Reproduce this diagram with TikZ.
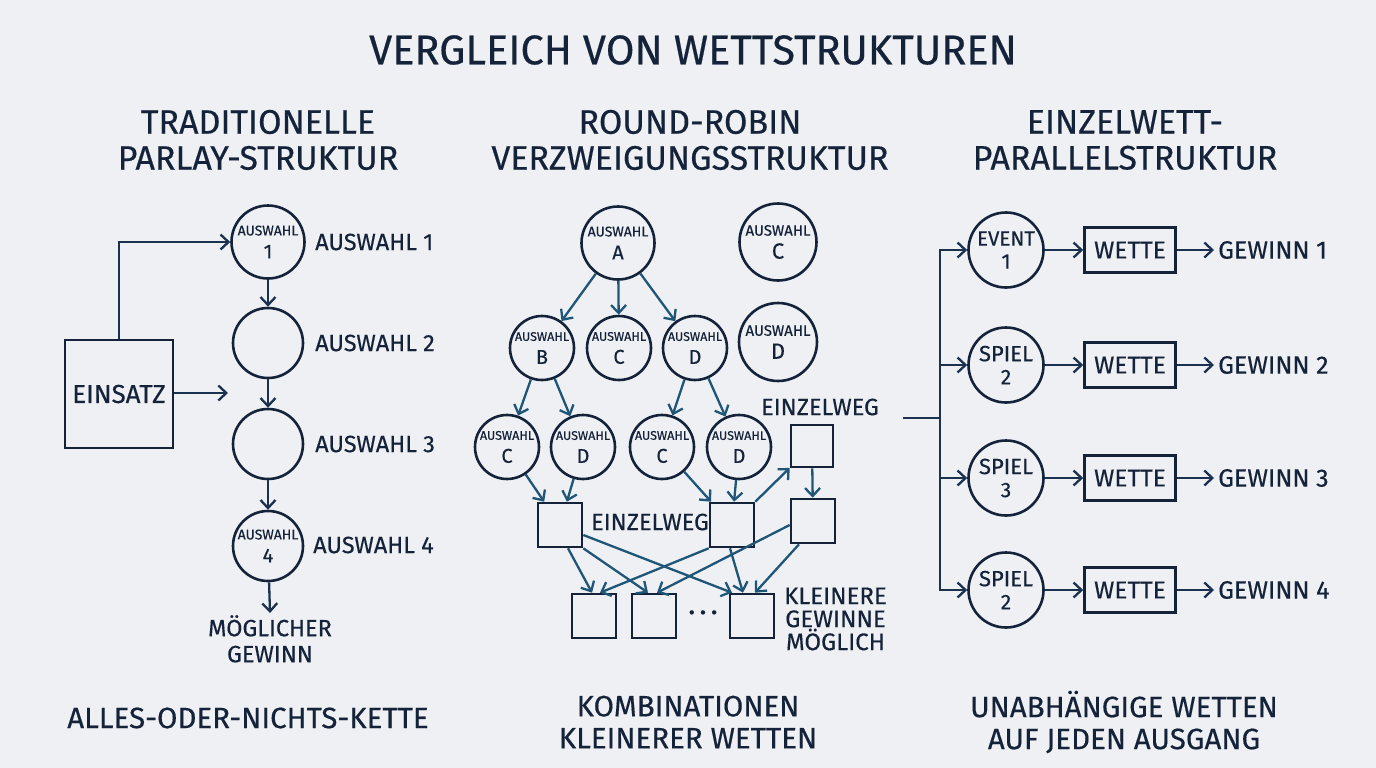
\documentclass[tikz,border=0pt]{standalone}
\usepackage{fontspec}
\setmainfont{Fira Sans}[FakeBold=0.4]
\usetikzlibrary{arrows.meta,calc}

\definecolor{paper}{HTML}{EEF0F3}
\definecolor{ink}{HTML}{15233A}
\definecolor{navyflow}{HTML}{1B3150}
\definecolor{tealflow}{HTML}{1F5678}

% two-line circle captions: small tag word above a larger key
\newcommand\seltag[2]{{\fontsize{#1}{23}\selectfont #2}}
\newcommand\selkey[2]{{\fontsize{#1}{23}\selectfont #2}}

\tikzset{
  sel/.style={circle,draw=ink,line width=2.6pt,minimum size=#1,inner sep=0pt,
    align=center,text=ink,font=\fontsize{12}{23}\selectfont},
  sel/.default=72pt,
  slot/.style={rectangle,draw=ink,line width=2.6pt,minimum width=#1,
    minimum height=#1,inner sep=0pt},
  slot/.default=44pt,
  lbl/.style={text=ink,font=\fontsize{23.5}{27}\selectfont,inner sep=0pt},
  midlbl/.style={text=ink,font=\fontsize{23.5}{24}\selectfont,inner sep=0pt,align=center},
  head/.style={text=ink,font=\fontsize{34}{36}\selectfont,align=center,inner sep=0pt},
  foot/.style={text=ink,font=\fontsize{29.5}{32}\selectfont,align=center,inner sep=0pt},
  tip/.style={-{Straight Barb[length=8pt,width=15pt,line width=2.3pt]}},
  navyarrow/.style={draw=navyflow,line width=2.3pt,tip},
  tealarrow/.style={draw=tealflow,line width=2.3pt,tip},
  navyline/.style={draw=navyflow,line width=2.3pt},
}

\begin{document}
\begin{tikzpicture}[x=1pt,y=-1pt]
  \fill[paper] (0,0) rectangle (1376,768);
  \useasboundingbox (0,0) rectangle (1376,768);

  % title
  \node[text=ink,font=\fontsize{41.5}{44}\selectfont,inner sep=0pt] (title) at (693,50)
    {VERGLEICH VON WETTSTRUKTUREN};

  % column headings
  \node[head] (hl) at (258,140) {TRADITIONELLE\\PARLAY-STRUKTUR};
  \node[head] (hm) at (690,140) {ROUND-ROBIN\\VERZWEIGUNGSSTRUKTUR};
  \node[head] (hr) at (1125,140) {EINZELWETT-\\PARALLELSTRUKTUR};

  % ---------- parlay chain ----------
  \node[sel=73pt] (p1) at (268,242) {\seltag{14}{AUSWAHL}\\\selkey{20}{1}};
  \node[sel=70pt] (p2) at (268,343) {};
  \node[sel=70pt] (p3) at (268,444) {};
  \node[sel=70pt] (p4) at (268,546) {\seltag{14}{AUSWAHL}\\\selkey{20}{4}};

  \node[lbl,anchor=west] (l1) at (315,242) {AUSWAHL 1};
  \node[lbl,anchor=west] (l2) at (315,343) {AUSWAHL 2};
  \node[lbl,anchor=west] (l3) at (315,444) {AUSWAHL 3};
  \node[lbl,anchor=west] (l4) at (313,545) {AUSWAHL 4};

  \node[text=ink,font=\fontsize{23.5}{26}\selectfont,align=center,inner sep=2pt,anchor=north]
    (gain) at (270,613) {MÖGLICHER\\GEWINN};

  \node[slot=108pt,text=ink,font=\fontsize{26}{28}\selectfont] (stake) at (119,394) {EINSATZ};
  \coordinate (stakeend) at (228,393);

  \draw[navyarrow] (stake.north) |- (p1.west);
  \draw[navyarrow] (stake.east |- stakeend) -- (stakeend);
  \draw[navyarrow] (p1) -- (p2);
  \draw[navyarrow] (p2) -- (p3);
  \draw[navyarrow] (p3) -- (p4);
  \draw[navyarrow] (p4) -- (gain.north);

  \node[foot] (fl) at (248,718) {ALLES-ODER-NICHTS-KETTE};

  % ---------- round-robin tree ----------
  \node[sel=73pt] (rA) at (618,243) {\seltag{14}{AUSWAHL}\\\selkey{20}{A}};
  \node[sel=77pt] (rCi) at (778,242) {\seltag{15}{AUSWAHL}\\\selkey{22}{C}};
  \node[sel=64pt] (rB) at (542,348) {\seltag{12.5}{AUSWAHL}\\\selkey{20}{B}};
  \node[sel=64pt] (rC) at (619,348) {\seltag{12.5}{AUSWAHL}\\\selkey{20}{C}};
  \node[sel=64pt] (rD) at (695,348) {\seltag{12.5}{AUSWAHL}\\\selkey{20}{D}};
  \node[sel=78pt] (rDi) at (778,342) {\seltag{15}{AUSWAHL}\\\selkey{22}{D}};

  \node[sel=64pt] (rC1) at (507,447) {\seltag{12.5}{AUSWAHL}\\\selkey{20}{C}};
  \node[sel=64pt] (rD1) at (583,447) {\seltag{12.5}{AUSWAHL}\\\selkey{20}{D}};
  \node[sel=64pt] (rC2) at (662,447) {\seltag{12.5}{AUSWAHL}\\\selkey{20}{C}};
  \node[sel=64pt] (rD2) at (739,447) {\seltag{12.5}{AUSWAHL}\\\selkey{20}{D}};

  \node[slot] (k1) at (560,525) {};
  \node[slot] (k2) at (732,525) {};
  \node[slot=42pt] (kt) at (812,446) {};
  \node[slot] (k3) at (813,521) {};

  \node[slot] (b1) at (594,616) {};
  \node[slot] (b2) at (654,616) {};
  \node[slot] (b3) at (752,616) {};
  \node[text=ink,font=\fontsize{30}{30}\selectfont,inner sep=0pt] (dots) at (703,616)
    {·\hspace{4pt}·\hspace{4pt}·};

  \node[midlbl] (ew1) at (650,522) {EINZELWEG};
  \node[midlbl] (ew2) at (820,407) {EINZELWEG};
  \node[midlbl,font=\fontsize{24}{23}\selectfont,anchor=west] (small) at (784,619)
    {KLEINERE\\GEWINNE\\MÖGLICH};

  \draw[tealarrow] (rA) -- (rB);
  \draw[tealarrow] (rA) -- (rC);
  \draw[tealarrow] (rA) -- (rD);
  \draw[tealarrow] (rB) -- (rC1);
  \draw[tealarrow] (rB) -- (rD1);
  \draw[tealarrow] (rD) -- (rC2);
  \draw[tealarrow] (rD) -- (rD2);

  \draw[tealarrow] (rC1) -- (k1);
  \draw[tealarrow] (rD1) -- (k1);
  \draw[tealarrow] (rC2) -- (k2);
  \draw[tealarrow] (rD2) -- (k2);
  \draw[tealarrow] (k2.north east) -- (kt);
  \draw[tealarrow] (kt) -- (k3);

  \draw[tealarrow] ([xshift=8pt]k1.south) -- ([xshift=-2pt]b1.north);
  \draw[tealarrow] (k1.south east) -- ([xshift=-6pt]b2.north);
  \draw[tealarrow] ([yshift=-10pt]k1.east) -- ([xshift=-20pt]b3.north);
  \draw[tealarrow] (k2.south west) -- ([xshift=6pt]b1.north);
  \draw[tealarrow] ([xshift=-2pt]k2.south) -- ([xshift=-9pt]b3.north);
  \draw[tealarrow] ([yshift=-4pt]k3.west) -- ([xshift=3pt]b2.north);
  \draw[tealarrow] ([xshift=-14pt]k3.south) -- ([xshift=3pt]b3.north);

  \node[foot] (fm) at (688,722) {KOMBINATIONEN\\KLEINERER WETTEN};

  % ---------- parallel single bets ----------
  \coordinate (feed) at (903,418);
  \coordinate (trunk) at (940,418);

  \node[sel=75pt] (e1) at (1006,250) {\seltag{20.5}{EVENT}\\\selkey{21}{1}};
  \node[sel=75pt] (e2) at (1006,365) {\seltag{22}{SPIEL}\\\selkey{21}{2}};
  \node[sel=75pt] (e3) at (1006,478) {\seltag{22}{SPIEL}\\\selkey{21}{3}};
  \node[sel=75pt] (e4) at (1006,590) {\seltag{22}{SPIEL}\\\selkey{21}{2}};

  \foreach \r/\y in {1/250,2/365,3/478,4/590}{
    \node[rectangle,draw=ink,line width=2.6pt,minimum width=91pt,minimum height=45pt,
      inner sep=0pt,text=ink,font=\fontsize{24.5}{26}\selectfont] (w\r) at (1130,\y) {WETTE};
    \node[lbl,font=\fontsize{25}{27}\selectfont,anchor=west] (g\r) at (1218,\y) {GEWINN \r};
    \draw[navyarrow] (e\r) -- (w\r);
    \draw[navyarrow,shorten >=4pt] (w\r) -- (g\r.west);
    \draw[navyarrow] (trunk) |- (e\r.west);
  }
  \draw[navyline] (feed) -- (trunk);

  \node[foot] (fr) at (1124,722) {UNABHÄNGIGE WETTEN\\AUF JEDEN AUSGANG};
\end{tikzpicture}
\end{document}
